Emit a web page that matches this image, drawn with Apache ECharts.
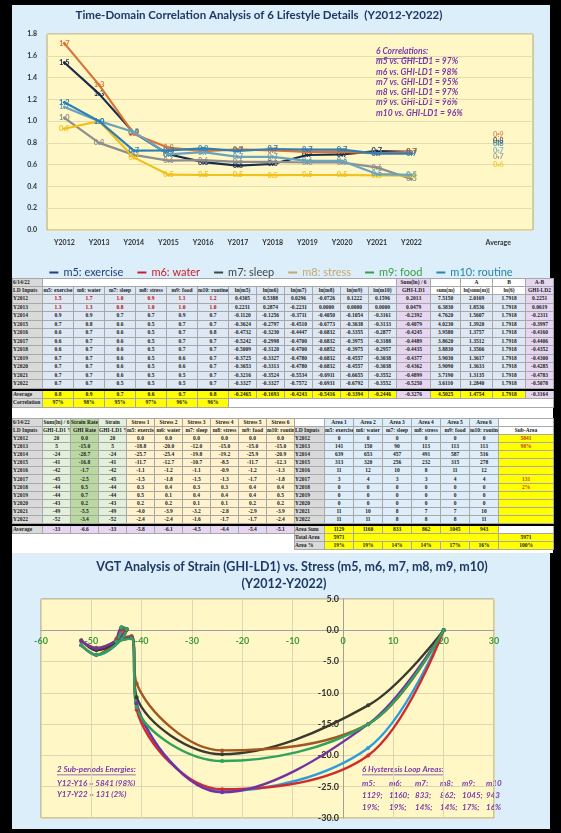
<!DOCTYPE html>
<html>
<head>
<meta charset="utf-8">
<script src="https://cdn.jsdelivr.net/npm/echarts@6/dist/echarts.min.js"></script>
<style>
  html, body { margin: 0; padding: 0; background: #000; width: 561px; height: 833px; overflow: hidden; }
  .panel { position: absolute; background: #dbeef9; }
  #chart1 { left: 12px; top: 5px; width: 538px; height: 273px; }
  #chart2 { left: 12px; top: 553px; width: 538px; height: 276px; }
  #tables { position: absolute; left: 12px; top: 278px; width: 541px; height: 275px; background: #fff; }
  table { position: absolute; left: 0; border-collapse: collapse; table-layout: fixed; width: 541px;
          font-family: 'Liberation Serif', serif; font-weight: bold; font-size: 5.5px; color: #1a1a1a; }
  td { border: 1px solid #a8a8a8; padding: 0; line-height: 5px; text-align: center; vertical-align: middle;
       white-space: nowrap; overflow: hidden; }
  #t1 { top: 0; }
  #t2 { top: 140px; }
  #t1 tr { height: 8.5px; }
  #t2 tr { height: 8.1px; }
  tr.h { height: 8px !important; }
  tr.sep { height: 2px !important; }
  tr.sep td { background: #000; border-color: #000; }
  td.g { background: #d9d9d9; text-align: left; }
  td.lb { background: #dde8f4; }
  td.lv { background: #e7d6f2; }
  td.y { background: #ffff00; }
  td.w { background: #fff; }
  td.nb { background: #fff; border: none; }
  td.lg { background: #e2efda; }
  td.dg { background: #b9d9a0; }
  td.ly { background: #fff2cc; }
  td.ab { background: #ddeefa; }
  .red { color: #c00000; }
  .org { color: #c04000; }
</style>
</head>
<body>
<div id="chart1" class="panel"></div>
<div id="tables">
  <table id="t1"></table>
  <table id="t2"></table>
</div>
<div id="chart2" class="panel"></div>

<script>
  const years = ['Y2012', 'Y2013', 'Y2014', 'Y2015', 'Y2016', 'Y2017', 'Y2018', 'Y2019', 'Y2020', 'Y2021', 'Y2022']
  const names = ['m5: exercise', 'm6: water', 'm7: sleep', 'm8: stress', 'm9: food', 'm10: routine']

  // lifestyle details m5..m10 (Y2012..Y2022)
  const m5 = [1.538, 1.250, 0.894, 0.696, 0.623, 0.592, 0.606, 0.689, 0.694, 0.725, 0.717]
  const m6 = [1.714, 1.333, 0.882, 0.756, 0.724, 0.741, 0.732, 0.717, 0.718, 0.703, 0.717]
  const m7 = [1.030, 0.800, 0.690, 0.637, 0.641, 0.625, 0.625, 0.620, 0.620, 0.575, 0.469]
  const m8 = [0.930, 1.000, 0.667, 0.508, 0.505, 0.505, 0.504, 0.505, 0.505, 0.501, 0.500]
  const m9 = [1.130, 1.000, 0.900, 0.695, 0.715, 0.672, 0.672, 0.634, 0.634, 0.514, 0.507]
  const m10 = [1.173, 1.000, 0.729, 0.731, 0.750, 0.727, 0.744, 0.738, 0.738, 0.701, 0.701]
  const mAvg = [0.82, 0.88, 0.67, 0.60, 0.73, 0.79]
  const correlations = [97, 98, 95, 97, 96, 96]

  // strain / stress (GHI-LD1 %)
  const strain = [20, 5, -24, -41, -42, -45, -44, -44, -43, -49, -52]
  const strainRate = [0.0, -15.0, -28.7, -16.8, -1.7, -2.5, 0.5, 0.7, 0.2, -5.5, -3.4]
  const stress1 = [0.0, -18.8, -25.7, -11.7, -1.1, -1.5, 0.3, 0.5, 0.2, -4.0, -2.4]
  const stress2 = [0.0, -20.0, -25.4, -12.7, -1.2, -1.8, 0.4, 0.1, 0.2, -3.9, -2.4]
  const stress3 = [0.0, -12.0, -19.8, -10.7, -1.1, -1.5, 0.3, 0.4, 0.1, -3.2, -1.6]
  const stress4 = [0.0, -15.0, -19.2, -8.5, -0.9, -1.3, 0.3, 0.4, 0.1, -2.8, -1.7]
  const stress5 = [0.0, -15.0, -25.9, -11.7, -1.2, -1.7, 0.4, 0.4, 0.2, -2.9, -1.7]
  const stress6 = [0.0, -15.0, -20.9, -12.3, -1.3, -1.8, 0.4, 0.5, 0.2, -3.9, -2.4]

  // hysteresis loop areas
  const area1 = [0, 141, 639, 313, 11, 3, 0, 0, 0, 11, 11]
  const area2 = [0, 150, 653, 320, 12, 4, 0, 0, 0, 10, 11]
  const area3 = [0, 90, 457, 256, 10, 3, 0, 0, 0, 8, 8]
  const area4 = [0, 113, 491, 232, 8, 3, 0, 0, 0, 7, 8]
  const area5 = [0, 113, 587, 315, 11, 4, 0, 0, 0, 7, 8]
  const area6 = [0, 113, 516, 278, 12, 4, 0, 0, 0, 10, 11]
  const subArea = ['5841', '98%', '', '', '', '131', '2%', '', '', '', '']
  const areaSum = [1129, 1160, 833, 862, 1045, 943]
  const areaPct = [19, 19, 14, 14, 17, 16]
  const totalArea = 5971
  const subLabels = ['Y12-Y16', 'Y17-Y22']
  const subEnergy = [5841, 131]
  const subPct = [98, 2]

  const mAll = [m5, m6, m7, m8, m9, m10]
  const stressAll = [stress1, stress2, stress3, stress4, stress5, stress6]
  const areaAll = [area1, area2, area3, area4, area5, area6]
  const shortNames = names.map(n => n.split(':')[0])

  const lineColors = ['#1c2b4a', '#d8743a', '#8e8e8e', '#f0c01c', '#6aa3bd', '#2f7fb5']
  const legendColors = ['#203f78', '#c8202c', '#444444', '#c9a86e', '#3c9f46', '#2a86a8']
  const loopColors = ['#2b9fdb', '#d22b2b', '#3b3a2c', '#a3561f', '#7232a3', '#2ea35e']
  const purple = '#7a3aa8'

  const mean = a => a.reduce((s, v) => s + v, 0) / a.length
  const td = (t, cls, extra) => '<td class="' + (cls || '') + '" ' + (extra || '') + '>' + t + '</td>'

  function textWidth (text, font) {
    const ctx = document.createElement('canvas').getContext('2d')
    ctx.font = font
    return ctx.measureText(text).width
  }

  // ---------- table 1 ----------
  const lnAll = mAll.map(arr => arr.map(v => Math.log(v)))
  const ghi1 = years.map((y, i) => mean(lnAll.map(a => a[i])))
  const sumM = years.map((y, i) => mAll.reduce((s, a) => s + a[i], 0))
  const lnSum = sumM.map(v => Math.log(v))
  const ln6 = Math.log(6)
  const ghi2 = lnSum.map(v => v - ln6)

  let t1 = ''
  t1 += '<colgroup><col style="width:30px">' + '<col style="width:31px">'.repeat(6) + '<col style="width:28px">'.repeat(6) +
    '<col style="width:34px"><col style="width:30px"><col style="width:32px"><col style="width:33px"><col style="width:28px"></colgroup>'
  t1 += '<tr class="h">' + td('6/14/22', 'g') + td('', 'w', 'colspan="12"') + td('Sum(ln) / 6', 'lv') + td('', 'w') +
    td('A', 'w') + td('B', 'w') + td('A-B', 'lv') + '</tr>'
  t1 += '<tr class="h">' + td('LD Inputs', 'g') + names.map(n => td(n, 'lb')).join('') +
    shortNames.map(n => td('ln(' + n + ')', 'lb')).join('') + td('GHI-LD1', 'lv') + td('sum(m)', 'w') +
    td('ln[sum(m)]', 'w') + td('ln(6)', 'w') + td('GHI-LD2', 'lv') + '</tr>'
  years.forEach((y, i) => {
    t1 += '<tr>' + td(y, 'g') +
      mAll.map(a => td(a[i].toFixed(1), 'lb' + (i < 2 ? ' red' : ''))).join('') +
      lnAll.map(a => td(a[i].toFixed(4), 'lb')).join('') +
      td(ghi1[i].toFixed(4), 'lv') + td(sumM[i].toFixed(4), 'lb') + td(lnSum[i].toFixed(4), 'lb') +
      td(ln6.toFixed(4), 'lb') + td(ghi2[i].toFixed(4), 'lv') + '</tr>'
  })
  t1 += '<tr class="sep"><td colspan="18"></td></tr>'
  t1 += '<tr>' + td('Average', 'g') + mAvg.map(v => td(v.toFixed(1), 'y')).join('') +
    lnAll.map(a => td(mean(a).toFixed(4), 'y')).join('') + td(mean(ghi1).toFixed(4), 'lv') +
    td(mean(sumM).toFixed(4), 'y') + td(mean(lnSum).toFixed(4), 'y') + td(ln6.toFixed(4), 'y') +
    td(mean(ghi2).toFixed(4), 'lv') + '</tr>'
  t1 += '<tr>' + td('Correlation', 'g') + correlations.map(v => td(v + '%', 'y')).join('') +
    td('', 'w', 'colspan="11"') + '</tr>'
  document.getElementById('t1').innerHTML = t1

  // ---------- table 2 ----------
  let t2 = ''
  t2 += '<colgroup><col style="width:30px">' + '<col style="width:28px">'.repeat(9) + '<col style="width:30px">' +
    '<col style="width:29px">'.repeat(6) + '<col style="width:55px"></colgroup>'
  t2 += '<tr class="h">' + td('6/14/22', 'g') + td('Sum(ln) / 6', 'lg') + td('Strain Rate', 'dg') + td('Strain', 'lg') +
    stressAll.map((a, k) => td('Stress ' + (k + 1), 'ly')).join('') + td('', 'w') +
    areaAll.map((a, k) => td('Area ' + (k + 1), 'ab')).join('') + td('', 'w') + '</tr>'
  t2 += '<tr class="h">' + td('LD Inputs', 'g') + td('GHI-LD1 %', 'lg') + td('GHI Rate', 'dg') + td('GHI-LD1 %', 'lg') +
    names.map(n => td(n, 'ly')).join('') + td('LD Inputs', 'g') + names.map(n => td(n, 'ab')).join('') +
    td('Sub-Area', 'w') + '</tr>'
  years.forEach((y, i) => {
    t2 += '<tr>' + td(y, 'g') + td(strain[i], 'lg') + td(strainRate[i].toFixed(1), 'dg') + td(strain[i], 'lg') +
      stressAll.map(a => td(a[i].toFixed(1), 'ly')).join('') + td(y, 'g') +
      areaAll.map(a => td(a[i], 'ab')).join('') + td(subArea[i], 'y org') + '</tr>'
  })
  t2 += '<tr class="sep"><td colspan="18"></td></tr>'
  t2 += '<tr>' + td('Average', 'g') + td(Math.round(mean(strain)), 'lv') + td(mean(strainRate).toFixed(1), 'lv') +
    td(Math.round(mean(strain)), 'lv') + stressAll.map(a => td(mean(a).toFixed(1), 'lv')).join('') +
    td('Area Sum', 'g') + areaSum.map(v => td(v, 'y')).join('') + td('', 'w') + '</tr>'
  t2 += '<tr>' + td('', 'nb', 'colspan="10"') + td('Total Area', 'g') + td(totalArea, 'y') +
    td('', 'y', 'colspan="5"') + td(totalArea, 'y') + '</tr>'
  t2 += '<tr>' + td('', 'nb', 'colspan="10"') + td('Area %', 'g') + areaPct.map(v => td(v + '%', 'y')).join('') +
    td('100%', 'y') + '</tr>'
  document.getElementById('t2').innerHTML = t2

  // ---------- chart 1: time-domain ----------
  const chart1 = echarts.init(document.getElementById('chart1'))
  const avgX = 12.5
  const series1 = []
  mAll.forEach((arr, k) => {
    const lbl = {
      show: true, position: 'inside', fontSize: 7.5, fontWeight: 'bold', fontFamily: 'Lato',
      color: lineColors[k], formatter: p => p.value[1].toFixed(1)
    }
    series1.push({
      name: names[k], type: 'line', data: arr.map((v, i) => [i, v]),
      color: lineColors[k], lineStyle: { width: 2.2 }, symbol: 'circle', symbolSize: 3,
      label: lbl, z: 2 + k
    })
    series1.push({
      name: 'avg ' + names[k], type: 'scatter', data: [[avgX, mAvg[k]]],
      color: lineColors[k], symbolSize: 2, label: lbl
    })
  })

  const corrFont = 'italic bold 8.5px Lato'
  const corrTitle = '6 Correlations:'
  const corrGraphics = [
    { type: 'text', left: 364, top: 42, style: { text: corrTitle, fill: purple, font: corrFont } },
    { type: 'rect', left: 364, top: 53, shape: { width: textWidth(corrTitle, corrFont), height: 0.8 }, style: { fill: purple } }
  ]
  correlations.forEach((c, k) => {
    corrGraphics.push({
      type: 'text', left: 364, top: 52 + k * 10.3,
      style: { text: shortNames[k] + ' vs. GHI-LD1 = ' + c + '%', fill: purple, font: corrFont }
    })
  })

  chart1.setOption({
    animation: false,
    textStyle: { fontFamily: 'Lato' },
    graphic: [
      { type: 'text', x: 247, y: 10, style: { text: 'Time-Domain Correlation Analysis of 6 Lifestyle Details  (Y2012-Y2022)',
        fill: '#1f3864', font: 'bold 11.5px Lato', textAlign: 'center', textVerticalAlign: 'middle' } }
    ].concat(corrGraphics),
    grid: { left: 35, right: 17, top: 29, bottom: 48, show: true, backgroundColor: '#fff8c6', borderColor: '#b8a468', borderWidth: 1 },
    legend: {
      top: 257, left: 'center', icon: 'rect', itemWidth: 9, itemHeight: 2, itemGap: 14,
      textStyle: { fontSize: 11, fontFamily: 'Lato' },
      data: names.map((n, k) => ({ name: n, itemStyle: { color: legendColors[k] }, textStyle: { color: legendColors[k] } }))
    },
    xAxis: {
      type: 'value', min: -0.5, max: 13.5, interval: 0.5,
      axisLine: { show: false }, axisTick: { show: false }, splitLine: { show: false },
      axisLabel: {
        fontSize: 7, fontWeight: 'bold', color: '#333', margin: 9, showMinLabel: true, showMaxLabel: true,
        formatter: v => {
          const r = Math.round(v)
          if (Math.abs(v - r) < 1e-6 && r >= 0 && r < years.length) return years[r]
          if (Math.abs(v - avgX) < 1e-6) return 'Average'
          return ''
        }
      }
    },
    yAxis: {
      type: 'value', min: 0, max: 1.8, interval: 0.2,
      axisLine: { show: false }, axisTick: { show: false },
      splitLine: { lineStyle: { color: '#e4dcaa' } },
      axisLabel: { fontSize: 7, fontWeight: 'bold', color: '#333', margin: 10, formatter: v => v.toFixed(1) }
    },
    series: series1
  })

  // ---------- chart 2: VGT strain vs stress ----------
  const chart2 = echarts.init(document.getElementById('chart2'))
  const noteFont = 'italic bold 8px Lato'
  const subTitle = '2 Sub-periods Energies:'
  const loopTitle = '6 Hysteresis Loop Areas:'
  const notes = [
    { type: 'text', left: 45, top: 212, style: { text: subTitle, fill: purple, font: noteFont } },
    { type: 'rect', left: 45, top: 221.5, shape: { width: textWidth(subTitle, noteFont), height: 0.8 }, style: { fill: purple } },
    { type: 'text', left: 350, top: 212, style: { text: loopTitle, fill: purple, font: noteFont } },
    { type: 'rect', left: 350, top: 221.5, shape: { width: textWidth(loopTitle, noteFont), height: 0.8 }, style: { fill: purple } }
  ]
  subLabels.forEach((s, i) => {
    notes.push({ type: 'text', left: 45, top: 226 + i * 11,
      style: { text: s + ' = ' + subEnergy[i] + ' (' + subPct[i] + '%)', fill: purple, font: noteFont } })
  })
  const colX = [350, 377, 403, 428, 450, 474]
  shortNames.forEach((n, k) => {
    const last = k === shortNames.length - 1
    notes.push({ type: 'text', left: colX[k], top: 226, style: { text: n + (last ? '' : ';'), fill: purple, font: noteFont } })
    notes.push({ type: 'text', left: colX[k], top: 238, style: { text: areaSum[k] + (last ? '' : ';'), fill: purple, font: noteFont } })
    notes.push({ type: 'text', left: colX[k], top: 250, style: { text: areaPct[k] + '%' + (last ? '' : ';'), fill: purple, font: noteFont } })
  })

  const grid2 = { left: 29, right: 56, top: 46, bottom: 11 }
  const xMin = -60
  const xMax = 30
  const yMin = -30
  const yMax = 5
  const plotW = 538 - grid2.left - grid2.right
  const plotH = 276 - grid2.top - grid2.bottom
  const yAxisShift = -plotW * (0 - xMin) / (xMax - xMin)
  const xAxisShift = -plotH * (0 - yMin) / (yMax - yMin)

  chart2.setOption({
    animation: false,
    textStyle: { fontFamily: 'Lato' },
    graphic: [
      { type: 'text', x: 280, y: 14, style: { text: 'VGT Analysis of Strain (GHI-LD1) vs. Stress (m5, m6, m7, m8, m9, m10)',
        fill: '#1f3864', font: 'bold 12.5px Lato', textAlign: 'center', textVerticalAlign: 'middle' } },
      { type: 'text', x: 272, y: 31, style: { text: '(Y2012-Y2022)',
        fill: '#1f3864', font: 'bold 12.5px Lato', textAlign: 'center', textVerticalAlign: 'middle' } }
    ].concat(notes),
    grid: Object.assign({ show: true, backgroundColor: '#fff8c6', borderColor: '#a89858', borderWidth: 1 }, grid2),
    xAxis: {
      type: 'value', min: xMin, max: xMax, interval: 10, position: 'bottom', offset: xAxisShift,
      axisLine: { show: true, onZero: false, lineStyle: { color: '#a0a0a0' } }, axisTick: { show: false },
      splitLine: { lineStyle: { color: '#dcd6b4' } },
      axisLabel: { fontSize: 9, fontWeight: 'bold', color: '#3d9a3d', margin: 6 }
    },
    yAxis: {
      type: 'value', min: yMin, max: yMax, interval: 5, position: 'left', offset: yAxisShift,
      axisLine: { show: true, onZero: false, lineStyle: { color: '#a0a0a0' } }, axisTick: { show: false },
      splitLine: { lineStyle: { color: '#dcd6b4' } },
      axisLabel: { fontSize: 9, fontWeight: 'bold', color: '#333', margin: 4, formatter: v => v.toFixed(1) }
    },
    series: stressAll.map((arr, k) => ({
      name: names[k], type: 'line', smooth: 0.35,
      data: strain.map((x, i) => [x, arr[i]]),
      color: loopColors[k], lineStyle: { width: 2.4 }, symbol: 'circle', symbolSize: 4
    }))
  })
</script>
</body>
</html>
